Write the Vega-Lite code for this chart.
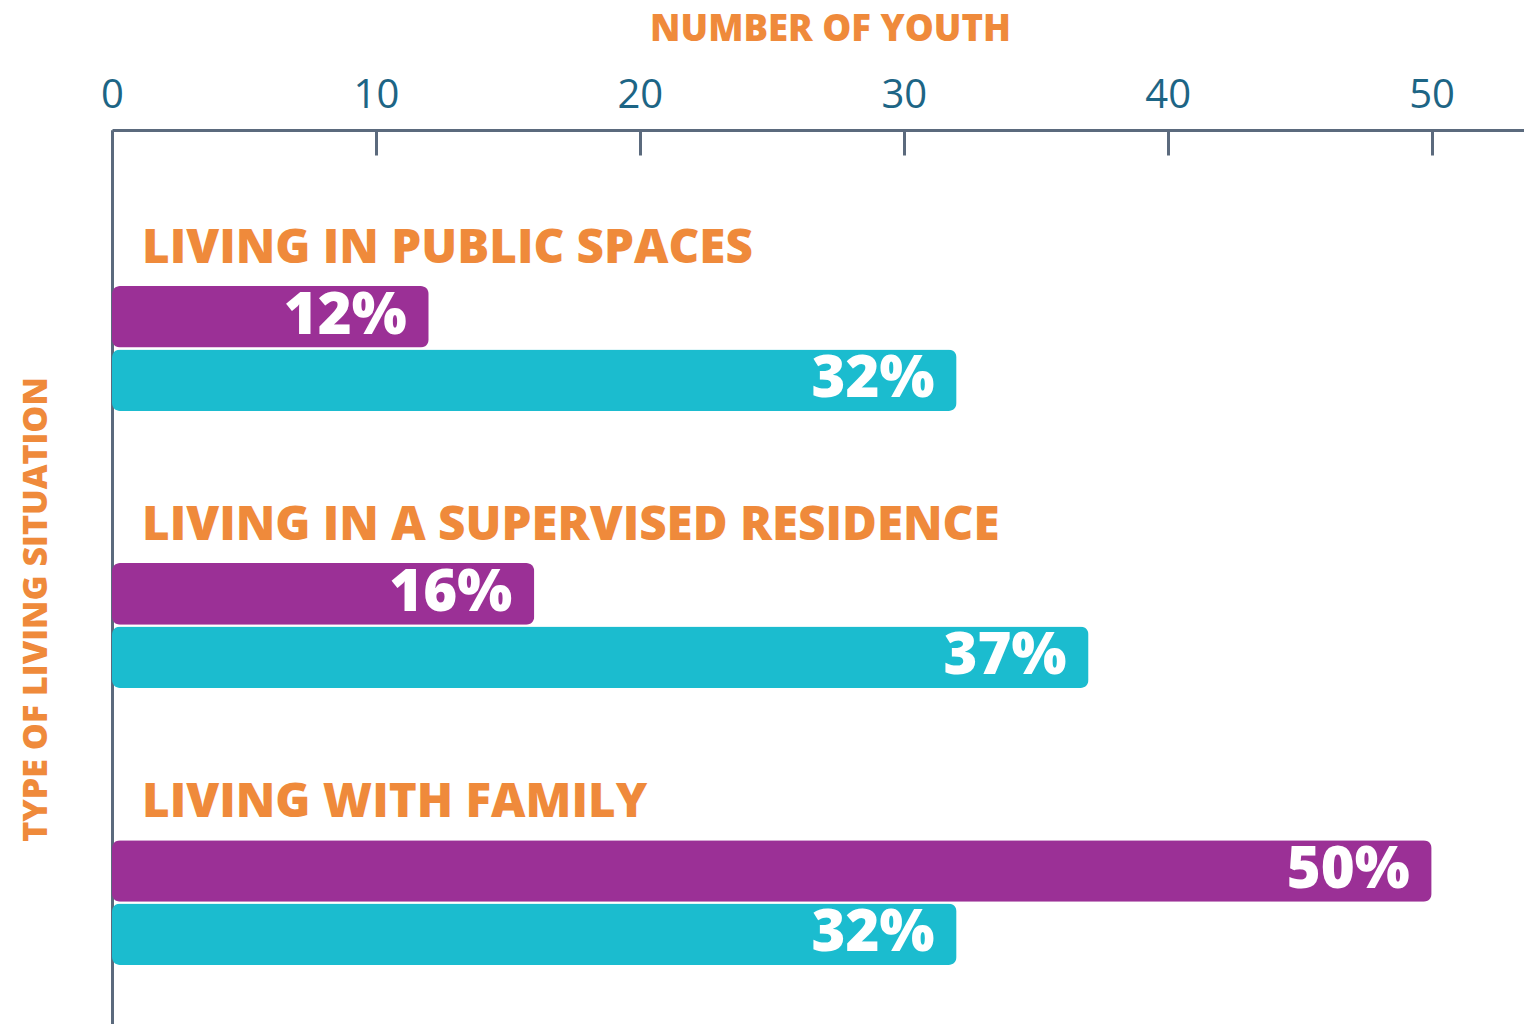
{
  "$schema": "https://vega.github.io/schema/vega-lite/v6.json",
  "width": 1412,
  "height": 894,
  "autosize": {"type": "none"},
  "padding": {"left": 112, "top": 130, "right": 0, "bottom": 0},
  "background": "white",
  "config": {"view": {"stroke": null}, "font": "Open Sans"},
  "data": {
    "values": [
      {"category": "LIVING IN PUBLIC SPACES", "series": "Group A", "value": 12, "label": "12%"},
      {"category": "LIVING IN PUBLIC SPACES", "series": "Group B", "value": 32, "label": "32%"},
      {"category": "LIVING IN A SUPERVISED RESIDENCE", "series": "Group A", "value": 16, "label": "16%"},
      {"category": "LIVING IN A SUPERVISED RESIDENCE", "series": "Group B", "value": 37, "label": "37%"},
      {"category": "LIVING WITH FAMILY", "series": "Group A", "value": 50, "label": "50%"},
      {"category": "LIVING WITH FAMILY", "series": "Group B", "value": 32, "label": "32%"}
    ]
  },
  "layer": [
    {
      "mark": {"type": "bar", "cornerRadius": 8},
      "encoding": {
        "y": {
          "field": "category", "type": "nominal",
          "sort": ["LIVING IN PUBLIC SPACES", "LIVING IN A SUPERVISED RESIDENCE", "LIVING WITH FAMILY"],
          "scale": {"paddingInner": 0.549, "paddingOuter": 0.388, "align": 0.726},
          "axis": {
            "orient": "left", "labels": false, "ticks": false, "grid": false,
            "domainColor": "#5b6a7d", "domainWidth": 3,
            "title": "TYPE OF LIVING SITUATION",
            "titleFont": "Open Sans", "titleFontSize": 34, "titleFontWeight": 800, "titleColor": "#ef8a3b",
            "titleAngle": -90, "titleX": -66, "titleY": 479, "titleBaseline": "alphabetic", "titleAlign": "center"
          }
        },
        "yOffset": {"field": "series", "type": "nominal", "scale": {"paddingInner": 0.03, "paddingOuter": 0}},
        "x": {
          "field": "value", "type": "quantitative",
          "scale": {"domain": [0, 53.5], "nice": false, "zero": true},
          "axis": {
            "orient": "top", "values": [0, 10, 20, 30, 40, 50], "grid": false,
            "domainColor": "#5b6a7d", "domainWidth": 3,
            "tickColor": "#5b6a7d", "tickWidth": 3, "tickSize": -25,
            "labelPadding": 40, "labelFontSize": 40, "labelColor": "#1d6585", "labelFont": "Open Sans", "labelFlush": false,
            "title": "NUMBER OF YOUTH",
            "titleFont": "Open Sans", "titleFontSize": 36.5, "titleFontWeight": 800, "titleColor": "#ef8a3b",
            "titleX": 718, "titleY": -90, "titleBaseline": "alphabetic", "titleAlign": "center", "titleAnchor": "middle"
          }
        },
        "color": {"field": "series", "type": "nominal", "scale": {"domain": ["Group A", "Group B"], "range": ["#9b3096", "#1bbccf"]}, "legend": null}
      }
    },
    {
      "mark": {"type": "text", "align": "right", "baseline": "middle", "dx": -22, "fontSize": 58, "fontWeight": 800, "color": "white", "font": "Open Sans"},
      "encoding": {
        "y": {"field": "category", "type": "nominal", "sort": ["LIVING IN PUBLIC SPACES", "LIVING IN A SUPERVISED RESIDENCE", "LIVING WITH FAMILY"]},
        "yOffset": {"field": "series", "type": "nominal"},
        "x": {"field": "value", "type": "quantitative"},
        "text": {"field": "label"}
      }
    },
    {
      "transform": [{"filter": {"field": "series", "equal": "Group A"}}],
      "mark": {"type": "text", "align": "left", "baseline": "alphabetic", "dx": 30, "dy": -23, "fontSize": 47.5, "fontWeight": 800, "color": "#ef8a3b", "font": "Open Sans"},
      "encoding": {
        "y": {"field": "category", "type": "nominal", "sort": ["LIVING IN PUBLIC SPACES", "LIVING IN A SUPERVISED RESIDENCE", "LIVING WITH FAMILY"], "bandPosition": 0},
        "x": {"datum": 0},
        "text": {"field": "category"}
      }
    }
  ]
}
